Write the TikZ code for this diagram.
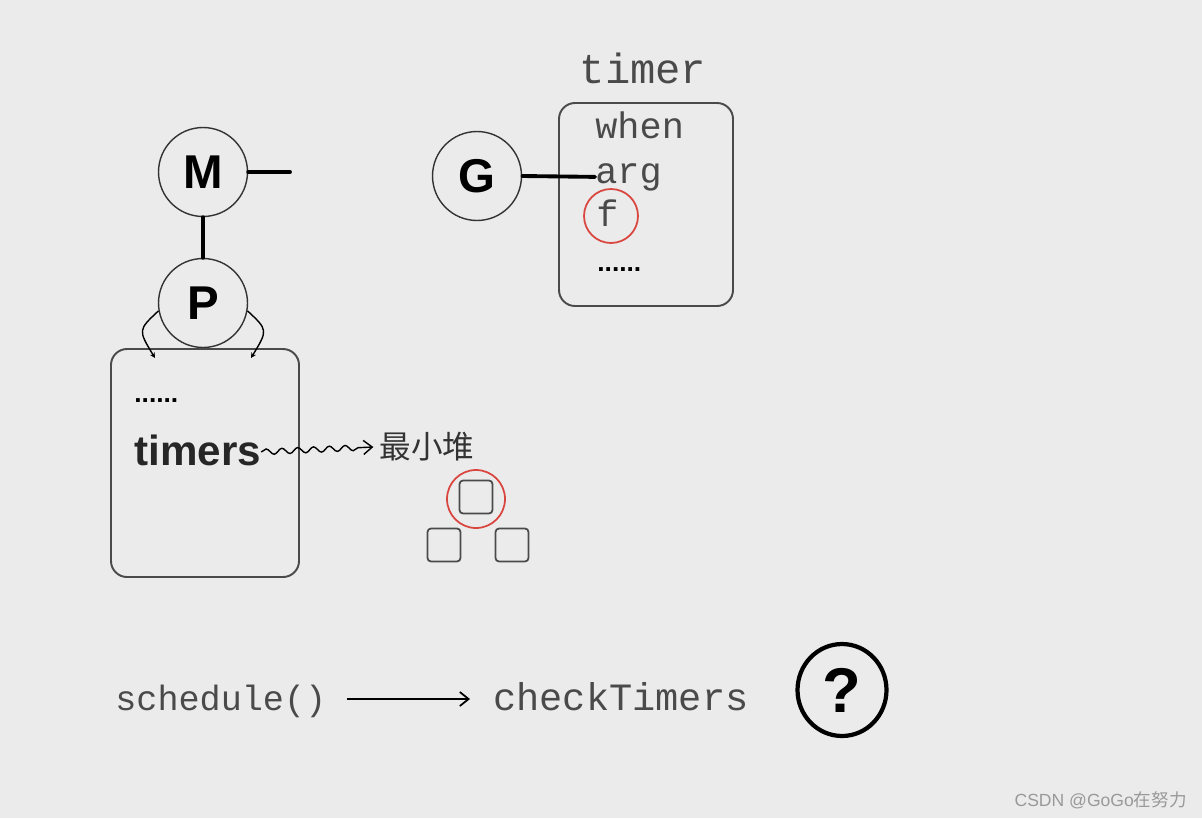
\documentclass[tikz,border=0pt]{standalone}
\usepackage{fontspec}
\setmainfont{Liberation Sans}
\newfontfamily\monofont{Liberation Mono}
\newfontfamily\cjkfont{Noto Sans CJK SC}
\usepackage{xcolor}
\usetikzlibrary{arrows.meta,shapes.geometric,decorations.pathmorphing}
\definecolor{bg}{HTML}{EBEBEB}
\definecolor{ink}{HTML}{4A4A4A}
\definecolor{mark}{HTML}{D9463F}
\begin{document}
\begin{tikzpicture}[x=0.02cm,y=-0.02cm,
  arr/.style={-{Straight Barb[length=5pt,width=8pt]},line width=1pt},
  proc/.style={circle,draw=black!80,line width=0.8pt,minimum size=1.78cm,inner sep=0pt,
    font=\fontsize{27}{27}\selectfont\bfseries},
  link/.style={line width=2.2pt,line cap=round},
  frame/.style={draw=ink,line width=1.1pt,rounded corners=0.32cm},
  code/.style={font=\monofont\fontsize{21}{21}\selectfont,text=ink,inner sep=0pt,anchor=base west},
  heap/.style={draw=ink,line width=1pt,rounded corners=2pt,minimum size=0.66cm,inner sep=0pt},
  hot/.style={draw=mark,line width=1pt,circle,inner sep=0pt}]

  %% background
  \fill[bg] (0,0) rectangle (1202,818);
  \useasboundingbox (0,0) rectangle (1202,818);

  %% M and P
  \node[proc] (M) at (203,172) {M};
  \node[proc] (P) at (203,303) {P};
  \coordinate (Mend) at (290,172);
  \draw[link] (M.east) -- (Mend);
  \draw[link] (M.south) -- (P.north);

  % local run queue of P
  \draw[frame] (111,349) rectangle (299,577);
  \coordinate (qL) at (155,358);
  \coordinate (qR) at (251,358);
  \draw[-{Stealth[length=3pt,width=3pt]},line width=0.8pt] (P.190) .. controls (138,330) .. (qL);
  \draw[-{Stealth[length=3pt,width=3pt]},line width=0.8pt] (P.-10) .. controls (268,330) .. (qR);
  \node[font=\fontsize{15}{15}\selectfont\bfseries,anchor=base west,inner sep=0pt] (pdots) at (134,402) {......};
  \node[font=\fontsize{24}{24}\selectfont\bfseries,anchor=base west,inner sep=0pt,text=black!85] (timers) at (134,465) {timers};

  %% min heap
  \node[font=\cjkfont\fontsize{18}{18}\selectfont,text=black!80] (heapname) at (427,447) {最小堆};
  \draw[arr,line width=0.8pt,decorate,decoration={snake,amplitude=1.6pt,segment length=9pt,post length=6pt}]
    (timers.east |- 0,452) -- (heapname.west);
  \node[heap] (h0) at (476,497) {};
  \node[heap] (h1) at (444,545) {};
  \node[heap] (h2) at (512,545) {};
  \node[hot,minimum size=1.16cm] (top) at (476,499) {};

  %% G and timer
  \node[proc] (G) at (477,176) {G};
  \node[code,font=\monofont\fontsize{24}{24}\selectfont,anchor=base] (tname) at (643,83) {timer};
  \draw[frame] (559,103) rectangle (733,306);
  \node[code] (when) at (595,138) {when};
  \node[code] (arg) at (595,183) {arg};
  \node[code] (f) at (596,226) {f};
  \node[font=\fontsize{15}{15}\selectfont\bfseries,anchor=base west,inner sep=0pt] (tdots) at (597,271) {......};
  \node[hot,minimum size=1.08cm] (fmark) at (611,216) {};
  \draw[link] (G.east) -- (arg.west);

  %% schedule -> checkTimers
  \node[code,font=\monofont\fontsize{20}{20}\selectfont] (sched) at (115,710) {schedule()};
  \node[code,font=\monofont\fontsize{22}{22}\selectfont] (check) at (493,710) {checkTimers};
  \draw[arr] (347,699) -- (470,699);
  \node[ellipse,draw=black,line width=2.4pt,minimum width=1.78cm,minimum height=1.84cm,inner sep=0pt,
    font=\fontsize{36}{36}\selectfont\bfseries] (ask) at (842,690) {?};

  %% watermark
  \node[text=black!40,font=\fontsize{10}{10}\selectfont,anchor=base east,inner sep=0pt] (wm) at (1187,806)
    {CSDN @GoGo{\cjkfont 在努力}};
\end{tikzpicture}
\end{document}
